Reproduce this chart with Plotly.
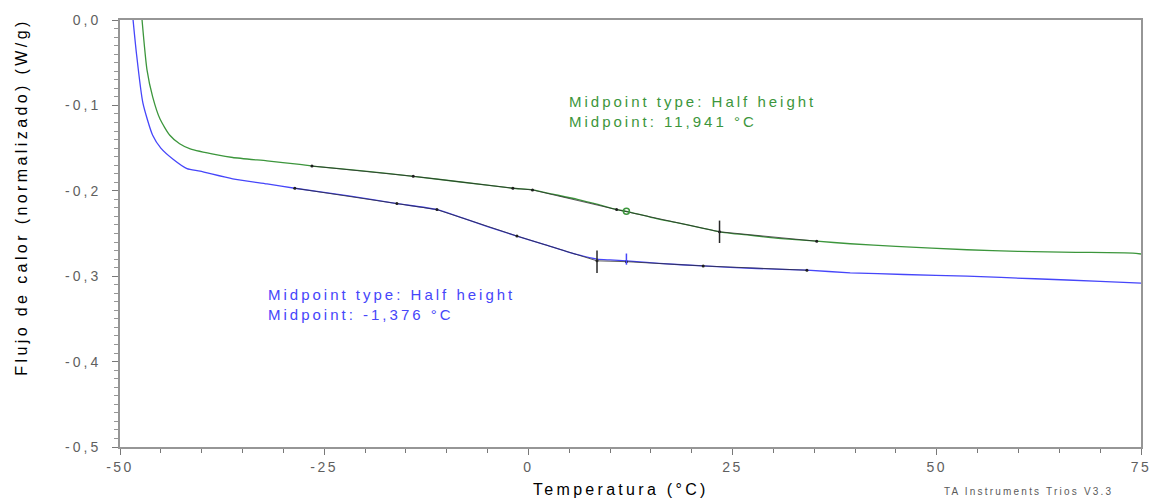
import plotly.graph_objects as go

# Green curve (sample 1)
green_T = [-47.3, -46.7, -46.0, -45.1, -43.9, -42.7, -41.4, -38.1, -36.2, -32.0, -28.0, -26.5, -20.0,
           -14.1, -8.0, -1.9, 0.5, 3.0, 6.0, 8.5, 10.8, 12.0, 15.0, 18.0, 21.0, 23.4, 27.0,
           31.0, 35.3, 39.4, 45.0, 53.7, 60.0, 67.0, 74.0, 75.0]
green_Q = [0.0, -0.058, -0.090, -0.116, -0.135, -0.145, -0.151, -0.158, -0.161, -0.165, -0.169, -0.171, -0.177,
           -0.183, -0.190, -0.197, -0.199, -0.204, -0.210, -0.216, -0.222, -0.224, -0.231, -0.237, -0.243,
           -0.248, -0.252, -0.256, -0.259, -0.262, -0.265, -0.269, -0.271, -0.272, -0.273, -0.274]

# Blue curve (sample 2)
blue_T = [-48.4, -48.0, -47.2, -46.0, -45.0, -43.5, -41.8, -40.2, -36.2, -32.0, -28.6, -22.0,
          -16.1, -11.2, -8.0, -5.0, -1.4, 2.0, 5.0, 8.4, 10.0, 12.0, 16.0, 21.4, 28.0, 34.1,
          39.4, 46.0, 53.7, 62.0, 70.0, 75.0]
blue_Q = [0.0, -0.038, -0.097, -0.135, -0.150, -0.163, -0.174, -0.177, -0.186, -0.192, -0.197, -0.206,
          -0.215, -0.222, -0.232, -0.242, -0.253, -0.263, -0.272, -0.280, -0.281, -0.282, -0.285, -0.288,
          -0.291, -0.293, -0.296, -0.298, -0.300, -0.303, -0.306, -0.308]

# Analysis (tangent) points
g_ana_T = [-26.5, -14.1, -1.9, 0.5, 10.8, 23.4, 35.3]
g_ana_Q = [-0.171, -0.183, -0.197, -0.199, -0.222, -0.248, -0.259]
b_ana_T = [-28.6, -16.1, -11.2, -1.4, 8.4, 12.0, 21.4, 34.1]
b_ana_Q = [-0.197, -0.215, -0.222, -0.253, -0.282, -0.283, -0.288, -0.293]

# Endset cross markers
cross_T = [23.4, 8.4]
cross_Q = [-0.248, -0.283]

# Small marks near the midpoints
g_mid_T = [12.0]
g_mid_Q = [-0.224]
b_mid_T = [12.0]
b_mid_Q = [-0.280]

y_ticks = [0.0, -0.1, -0.2, -0.3, -0.4, -0.5]
y_labels = ["0,0", "-0,1", "-0,2", "-0,3", "-0,4", "-0,5"]
x_ticks = [-50, -25, 0, 25, 50, 75]
x_labels = ["-50", "-25", "0", "25", "50", "75"]

GREEN = "rgb(60,150,60)"
BLUE = "rgb(70,70,250)"
FONT = "Liberation Sans, Arial, sans-serif"


def wide(s, sp):
    return "<span style='letter-spacing:%spx'>%s</span>" % (sp, s)


fig = go.Figure()
fig.add_trace(go.Scatter(x=green_T, y=green_Q, mode="lines",
                         line=dict(color=GREEN, width=1.3, shape="spline", smoothing=0.6)))
fig.add_trace(go.Scatter(x=blue_T, y=blue_Q, mode="lines",
                         line=dict(color=BLUE, width=1.3, shape="spline", smoothing=0.6)))
fig.add_trace(go.Scatter(x=g_ana_T, y=g_ana_Q, mode="lines+markers",
                         line=dict(color="rgba(40,40,40,0.75)", width=1),
                         marker=dict(color="rgb(30,30,30)", size=3)))
fig.add_trace(go.Scatter(x=b_ana_T, y=b_ana_Q, mode="lines+markers",
                         line=dict(color="rgba(40,40,40,0.75)", width=1),
                         marker=dict(color="rgb(30,30,30)", size=3)))
fig.add_trace(go.Scatter(x=cross_T, y=cross_Q, mode="markers",
                         marker=dict(symbol="line-ns", size=16, color="rgb(40,40,40)",
                                     line=dict(color="rgb(40,40,40)", width=1.5))))
fig.add_trace(go.Scatter(x=g_mid_T, y=g_mid_Q, mode="markers",
                         marker=dict(symbol="circle-open", size=6, color=GREEN,
                                     line=dict(color=GREEN, width=1.5))))
fig.add_trace(go.Scatter(x=b_mid_T, y=b_mid_Q, mode="markers",
                         marker=dict(symbol="line-ns", size=8, color=BLUE,
                                     line=dict(color=BLUE, width=1.5))))

fig.add_annotation(x=4.7, y=-0.0826, xref="x", yref="y", xanchor="left", yanchor="top",
                   text=wide("Midpoint type: Half height", 3) + "<br>" + wide("Midpoint: 11,941 °C", 3),
                   showarrow=False, align="left",
                   font=dict(color=GREEN, size=15, family=FONT))
fig.add_annotation(x=-32.1, y=-0.309, xref="x", yref="y", xanchor="left", yanchor="top",
                   text=wide("Midpoint type: Half height", 3) + "<br>" + wide("Midpoint: -1,376 °C", 3),
                   showarrow=False, align="left",
                   font=dict(color=BLUE, size=15, family=FONT))

# axis titles and footer placed in paper coordinates
W, H = 1163, 502
L, R, T, B = 120, 22, 17, 55
pw, ph = W - L - R, H - T - B


def px_to_paper(xp, yp):
    return (xp - L) / pw, 1 - (yp - T) / ph


tx, ty = px_to_paper(621, 490)
fig.add_annotation(x=tx, y=ty, xref="paper", yref="paper", xanchor="center", yanchor="middle",
                   text=wide("Temperatura (°C)", 3.3), showarrow=False,
                   font=dict(color="black", size=16, family=FONT))
yx, yy = px_to_paper(22, 196)
fig.add_annotation(x=yx, y=yy, xref="paper", yref="paper", xanchor="center", yanchor="middle",
                   text=wide("Flujo de calor (normalizado) (W/g)", 3.4), showarrow=False,
                   textangle=-90, font=dict(color="black", size=16, family=FONT))
fx, fy = px_to_paper(1028, 492)
fig.add_annotation(x=fx, y=fy, xref="paper", yref="paper", xanchor="center", yanchor="middle",
                   text=wide("TA Instruments Trios V3.3", 2.2), showarrow=False,
                   font=dict(color="rgb(90,90,90)", size=10, family=FONT))

fig.update_layout(
    width=W, height=H,
    margin=dict(l=L, r=R, t=T, b=B),
    plot_bgcolor="white", paper_bgcolor="white",
    showlegend=False,
    font=dict(family=FONT),
    xaxis=dict(range=[-50, 75], tickvals=x_ticks, ticktext=[wide(s, 2.5) for s in x_labels],
               showgrid=False, zeroline=False, showline=True, mirror=True,
               linecolor="rgb(150,150,150)", linewidth=2,
               ticks="outside", ticklen=6, tickcolor="rgb(120,120,120)", tickwidth=1,
               minor=dict(dtick=5, ticks="outside", ticklen=4, tickcolor="rgb(120,120,120)"),
               tickfont=dict(color="rgb(95,95,95)", size=14, family=FONT)),
    yaxis=dict(range=[-0.5, 0.0], tickvals=y_ticks, ticktext=[wide(s, 3) for s in y_labels],
               showgrid=False, zeroline=False, showline=True, mirror=True,
               linecolor="rgb(150,150,150)", linewidth=2,
               ticks="outside", ticklen=6, tickcolor="rgb(120,120,120)", tickwidth=1,
               ticklabelstandoff=8,
               minor=dict(dtick=0.01, ticks="outside", ticklen=4, tickcolor="rgb(150,150,150)"),
               tickfont=dict(color="rgb(95,95,95)", size=14, family=FONT)),
)

fig.write_html("out.html")
